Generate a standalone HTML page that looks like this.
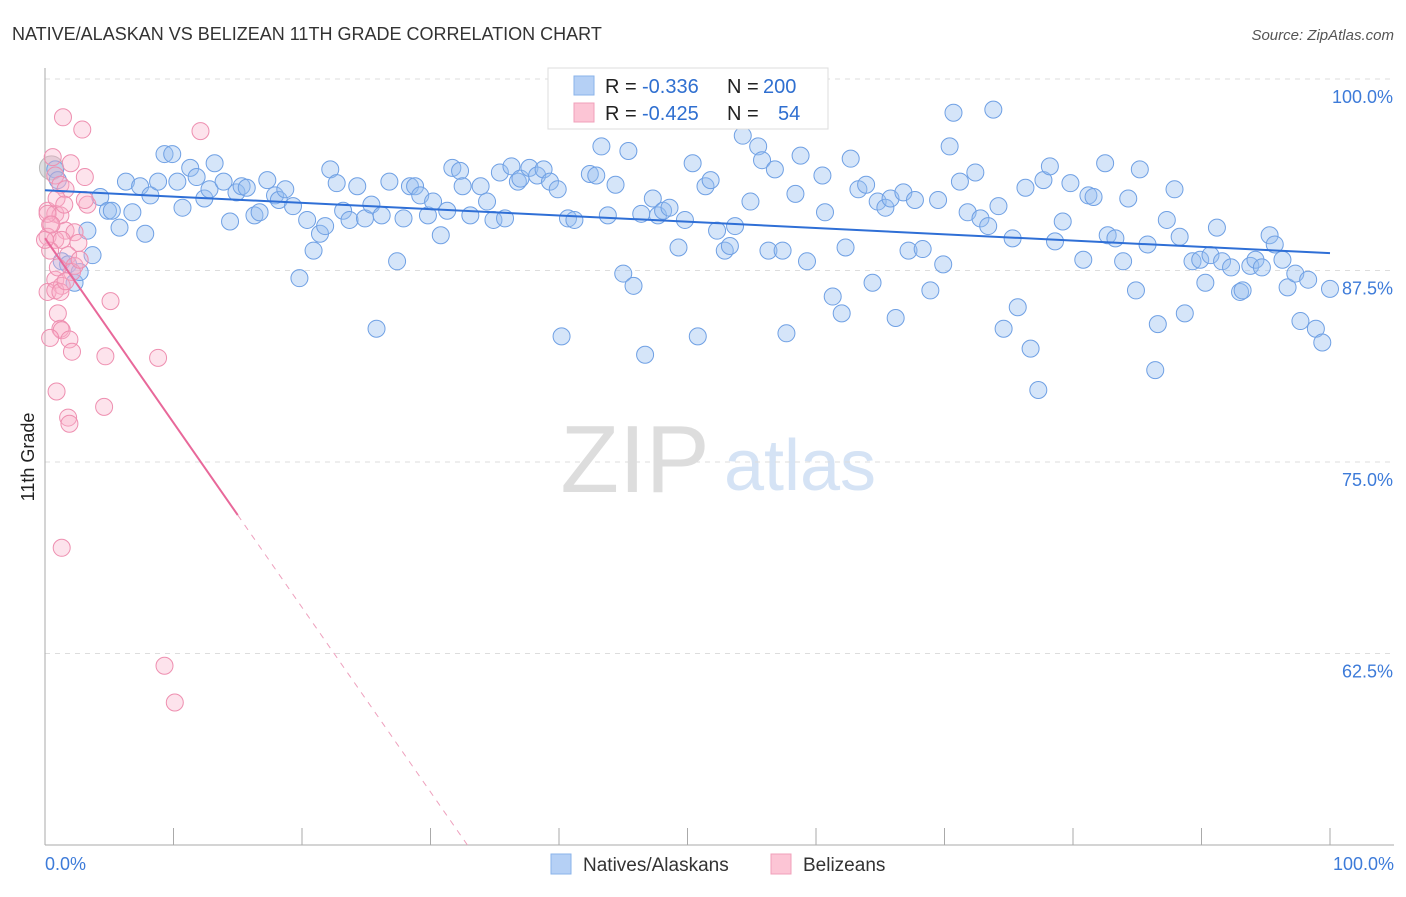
<!DOCTYPE html>
<html><head><meta charset="utf-8">
<style>
body{margin:0;background:#fff;font-family:"Liberation Sans",sans-serif;}
svg text{font-family:"Liberation Sans",sans-serif;}
</style></head>
<body>
<svg id="chart" width="1406" height="892" xmlns="http://www.w3.org/2000/svg">
<text x="12" y="40" font-size="18" fill="#333">NATIVE/ALASKAN VS BELIZEAN 11TH GRADE CORRELATION CHART</text>
<text x="1394" y="40" font-size="15" fill="#555" font-style="italic" text-anchor="end">Source: ZipAtlas.com</text>
<text x="635" y="492" font-size="96" fill="#ddd" font-family="Liberation Serif" text-anchor="middle">ZIP</text>
<text x="800" y="490" font-size="72" fill="#d5e3f5" text-anchor="middle">atlas</text>
<text transform="translate(34,457) rotate(-90)" font-size="18" fill="#222" text-anchor="middle">11th Grade</text>
<g id="grid"></g><g id="axes"></g><g id="pts"></g><g id="trend"></g>
<g>
<rect x="548" y="68" width="280" height="61" fill="#fff" stroke="#ddd"/>
<rect x="574" y="76" width="20" height="19" fill="#b5d0f5" stroke="#8ab3ea"/>
<rect x="574" y="103" width="20" height="19" fill="#fcc5d5" stroke="#f0a0ba"/>
<text x="605" y="93" font-size="20" fill="#222">R =</text>
<text x="642" y="93" font-size="20" fill="#2f6fd0">-0.336</text>
<text x="727" y="93" font-size="20" fill="#222">N =</text>
<text x="763" y="93" font-size="20" fill="#2f6fd0">200</text>
<text x="605" y="120" font-size="20" fill="#222">R =</text>
<text x="642" y="120" font-size="20" fill="#2f6fd0">-0.425</text>
<text x="727" y="120" font-size="20" fill="#222">N =</text>
<text x="778" y="120" font-size="20" fill="#2f6fd0">54</text>
</g>
<g>
<rect x="551" y="854" width="20" height="20" fill="#b5d0f5" stroke="#8ab3ea"/>
<text x="583" y="871" font-size="19" fill="#333">Natives/Alaskans</text>
<rect x="771" y="854" width="20" height="20" fill="#fcc5d5" stroke="#f0a0ba"/>
<text x="803" y="871" font-size="19" fill="#333">Belizeans</text>
</g>
</svg>
<script>
const yTicks=[100,87.5,75,62.5];
const yTickLabels=["100.0%","87.5%","75.0%","62.5%"];
const blueX=[0.8,1.0,1.3,1.8,2.3,2.7,3.3,3.7,4.3,4.9,5.2,5.8,6.3,6.8,7.4,7.8,8.2,8.8,9.3,9.9,10.3,10.7,11.3,11.8,12.4,12.8,13.2,13.9,14.4,14.9,15.3,15.7,16.3,16.7,17.3,17.9,18.2,18.7,19.3,19.8,20.4,20.9,21.4,21.8,22.2,22.7,23.2,23.7,24.3,24.9,25.4,25.8,26.2,26.8,27.4,27.9,28.4,28.8,29.2,29.8,30.2,30.8,31.3,31.7,32.3,32.5,33.1,33.9,34.4,34.9,35.4,35.8,36.3,36.8,37.0,37.7,38.3,38.8,39.3,39.9,40.2,40.7,41.2,42.4,42.9,43.3,43.8,44.4,45.0,45.4,45.8,46.4,46.7,47.3,47.7,48.1,48.6,49.3,49.8,50.4,50.8,51.4,51.8,52.3,52.9,53.3,53.7,54.3,54.9,55.5,55.8,56.3,56.8,57.4,57.7,58.4,58.8,59.3,60.0,60.5,60.7,61.3,62.0,62.3,62.7,63.3,63.9,64.4,64.8,65.4,65.8,66.2,66.8,67.2,67.7,68.3,68.9,69.5,69.9,70.4,70.7,71.2,71.8,72.4,72.8,73.4,73.8,74.2,74.6,75.3,75.7,76.3,76.7,77.3,77.7,78.2,78.6,79.2,79.8,80.8,81.2,81.6,82.5,82.7,83.3,83.9,84.3,84.9,85.2,85.8,86.4,86.6,87.3,87.9,88.3,88.7,89.3,89.9,90.3,90.7,91.2,91.6,92.3,93.0,93.2,93.8,94.2,94.7,95.3,95.7,96.3,96.7,97.3,97.7,98.3,98.9,99.4,100];
const blueY=[94.1,93.4,88.1,87.9,86.7,87.4,90.1,88.5,92.3,91.4,91.4,90.3,93.3,91.3,93.0,89.9,92.4,93.3,95.1,95.1,93.3,91.6,94.2,93.6,92.2,92.8,94.5,93.3,90.7,92.6,93.0,92.9,91.1,91.3,93.4,92.4,92.1,92.8,91.7,87.0,90.8,88.8,89.9,90.4,94.1,93.2,91.4,90.8,93.0,90.9,91.8,83.7,91.1,93.3,88.1,90.9,93.0,93.0,92.4,91.1,92.0,89.8,91.4,94.2,94.0,93.0,91.1,93.0,92.0,90.8,93.9,90.9,94.3,93.3,93.5,94.2,93.7,94.1,93.3,92.8,83.2,90.9,90.8,93.8,93.7,95.6,91.1,93.1,87.3,95.3,86.5,91.2,82.0,92.2,91.1,91.4,91.6,89.0,90.8,94.5,83.2,93.0,93.4,90.1,88.8,89.1,90.4,96.3,92.0,95.6,94.7,88.8,94.1,88.8,83.4,92.5,95.0,88.1,98.8,93.7,91.3,85.8,84.7,89.0,94.8,92.8,93.1,86.7,92.0,91.6,92.2,84.4,92.6,88.8,92.1,88.9,86.2,92.1,87.9,95.6,97.8,93.3,91.3,93.9,90.9,90.4,98.0,91.7,83.7,89.6,85.1,92.9,82.4,79.7,93.4,94.3,89.4,90.7,93.2,88.2,92.4,92.3,94.5,89.8,89.6,88.1,92.2,86.2,94.1,89.2,81.0,84.0,90.8,92.8,89.7,84.7,88.1,88.2,86.7,88.5,90.3,88.1,87.7,86.1,86.2,87.8,88.2,87.7,89.8,89.2,88.2,86.4,87.3,84.2,86.9,83.7,82.8,86.3];
const pinkX=[1.4,2.9,12.1,0.6,2.0,0.8,3.1,1.2,1.6,3.3,0.2,0.8,1.2,0.4,1.6,2.3,0.2,0.8,1.3,2.6,0.4,1.8,2.3,0.8,1.3,0.2,0.8,5.1,1.0,1.2,1.3,0.4,1.9,2.1,4.7,8.8,0.9,4.6,1.8,1.9,1.3,9.3,10.1,0,3.1,0.2,0.9,1.5,0.5,2.1,1.0,2.7,1.2,1.6];
const pinkY=[97.5,96.7,96.6,94.9,94.5,93.7,93.6,93.1,92.8,91.8,91.4,91.2,91.1,90.5,90.1,90.0,89.7,89.5,89.5,89.3,88.8,88.5,87.8,86.9,86.5,86.1,86.2,85.5,84.7,83.7,83.6,83.1,83.0,82.2,81.9,81.8,79.6,78.6,77.9,77.5,69.4,61.7,59.3,89.5,92.1,91.2,92.2,91.8,90.5,87.4,87.7,88.2,86.1,86.8];
const NS="http://www.w3.org/2000/svg";
const X0=45,X1=1330,Y100=79,YPER=15.32;
function sx(v){return X0+(X1-X0)*v/100;}
function sy(v){return Y100+(100-v)*YPER;}
function mk(tag,attrs,parent){const e=document.createElementNS(NS,tag);for(const k in attrs)e.setAttribute(k,attrs[k]);parent.appendChild(e);return e;}
const grid=document.getElementById('grid'),axes=document.getElementById('axes'),pts=document.getElementById('pts'),tr=document.getElementById('trend');
yTicks.forEach((t,i)=>{
 const l=mk('line',{x1:45,x2:1394,y1:sy(t),y2:sy(t),stroke:'#ddd','stroke-dasharray':'5,5'},grid);
 
 
 const tx=mk('text',{x:1393,y:sy(t)+24,'font-size':18,fill:'#3d7bd9','text-anchor':'end'},axes);
 tx.textContent=yTickLabels[i];
 
 
});
mk('line',{x1:45,x2:45,y1:68,y2:845,stroke:'#aaa'},axes);
mk('line',{x1:45,x2:1394,y1:845,y2:845,stroke:'#aaa'},axes);
for(let i=0;i<=10;i++){const t=mk('line',{x1:sx(i*10),x2:sx(i*10),y1:828,y2:845,stroke:'#aaa'},axes);
 
 }
const xl=mk('text',{x:45,y:870,'font-size':18,fill:'#3d7bd9'},axes);xl.textContent='0.0%';


const xr=mk('text',{x:1394,y:870,'font-size':18,fill:'#3d7bd9','text-anchor':'end'},axes);xr.textContent='100.0%';


mk('circle',{cx:sx(0.5),cy:sy(94.2),r:12,fill:'rgba(160,160,170,0.35)',stroke:'#bbb'},pts);
blueX.forEach((x,i)=>{const c=mk('circle',{cx:sx(x),cy:sy(blueY[i]),r:8.5,fill:'rgba(150,190,240,0.4)',stroke:'#6fa0e4','stroke-width':1},pts);
 
 });
pinkX.forEach((x,i)=>{const c=mk('circle',{cx:sx(x),cy:sy(pinkY[i]),r:8.5,fill:'rgba(248,175,200,0.35)',stroke:'#ee8fb0','stroke-width':1},pts);
 
 });
function fit(xs,ys){const n=xs.length;let mx=0,my=0;xs.forEach((v,i)=>{mx+=v;my+=ys[i];});mx/=n;my/=n;let a=0,b=0;xs.forEach((v,i)=>{a+=(v-mx)*(ys[i]-my);b+=(v-mx)*(v-mx);});const s=a/b;return [s,my-s*mx];}
const [bs,bi]=fit(blueX,blueY);
const bl=mk('line',{x1:sx(0),y1:sy(bi),x2:sx(100),y2:sy(bi+100*bs),stroke:'#2f6fd6','stroke-width':2},tr);


const [ps,pi]=fit(pinkX,pinkY);
const pl=mk('line',{x1:sx(0),y1:sy(pi),x2:sx(15),y2:sy(pi+15*ps),stroke:'#e8689a','stroke-width':2},tr);


const xe=(50-pi)/ps;
const pd=mk('line',{x1:sx(15),y1:sy(pi+15*ps),x2:sx(xe),y2:sy(50),stroke:'#eea0bd','stroke-width':1,'stroke-dasharray':'6,6'},tr);


</script>
</body></html>
